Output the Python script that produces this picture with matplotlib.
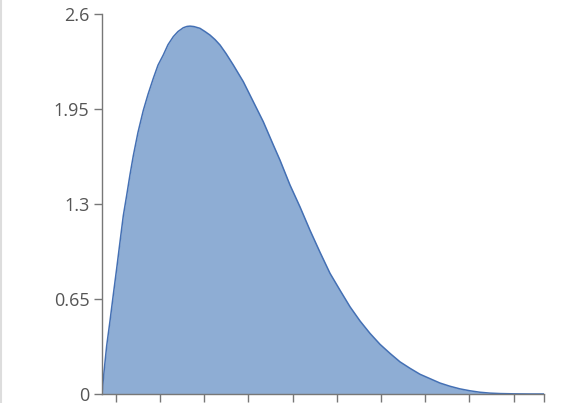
import matplotlib.pyplot as plt
from matplotlib.lines import Line2D

# x as fraction of the axis domain, y
x = [0.0, 0.0045, 0.0106, 0.0181, 0.0256, 0.0333, 0.0407, 0.0482, 0.0559, 0.0633,
     0.0708, 0.0814, 0.0934, 0.1041, 0.1161, 0.1267, 0.1387, 0.1493, 0.1613, 0.1719,
     0.1839, 0.1923, 0.1991, 0.2081, 0.2217, 0.2330, 0.2443, 0.2557, 0.2670, 0.2805,
     0.2971, 0.3197, 0.3423, 0.3649, 0.3876, 0.4027, 0.4253, 0.4480, 0.4706, 0.4932,
     0.5158, 0.5385, 0.5611, 0.5837, 0.6063, 0.6290, 0.6516, 0.6742, 0.6968, 0.7195,
     0.7421, 0.7647, 0.7873, 0.8100, 0.8326, 0.8552, 0.8778, 0.9005, 0.9344, 0.9683,
     1.0]
y = [0.0, 0.15, 0.33, 0.50, 0.68, 0.86, 1.04, 1.22, 1.36, 1.50,
     1.63, 1.79, 1.94, 2.05, 2.16, 2.25, 2.32, 2.39, 2.445, 2.48,
     2.506, 2.515, 2.517, 2.514, 2.502, 2.48, 2.456, 2.425, 2.388, 2.33,
     2.251, 2.137, 2.0, 1.863, 1.704, 1.60, 1.43, 1.28, 1.12, 0.97,
     0.826, 0.71, 0.597, 0.50, 0.415, 0.34, 0.278, 0.22, 0.176, 0.135,
     0.105, 0.075, 0.053, 0.035, 0.022, 0.012, 0.006, 0.003, 0.001, 0.0002,
     0.0]
y_ticks = [0, 0.65, 1.3, 1.95, 2.6]
y_labels = ['0', '0.65', '1.3', '1.95', '2.6']
x_ticks = [0.031 + 0.1 * k for k in range(10)] + [1.0]

plt.rcParams['font.family'] = ['Open Sans', 'DejaVu Sans']

fig = plt.figure(figsize=(5.66, 4.03), dpi=100)
ax = fig.add_axes([102 / 566, 9 / 403, 442 / 566, 380 / 403])

ax.fill_between(x, y, 0, color='#8EADD4', linewidth=0)
ax.plot(x, y, color='#4470B4', linewidth=1.1)

ax.set_xlim(0, 1)
ax.set_ylim(0, 2.6)
ax.set_yticks(y_ticks)
ax.set_yticklabels(y_labels)
ax.set_xticks(x_ticks)
ax.set_xticklabels([])

for s in ['top', 'right']:
    ax.spines[s].set_visible(False)
for s in ['left', 'bottom']:
    ax.spines[s].set_color('#777777')
    ax.spines[s].set_linewidth(1)
ax.tick_params(axis='both', color='#777777', length=6, width=1)
ax.tick_params(axis='y', labelsize=13, labelcolor='#555555', pad=3)

fig.add_artist(Line2D([1 / 566, 1 / 566], [0, 1], color='#dddddd', linewidth=1.5))

fig.savefig('out.png', dpi=100)
